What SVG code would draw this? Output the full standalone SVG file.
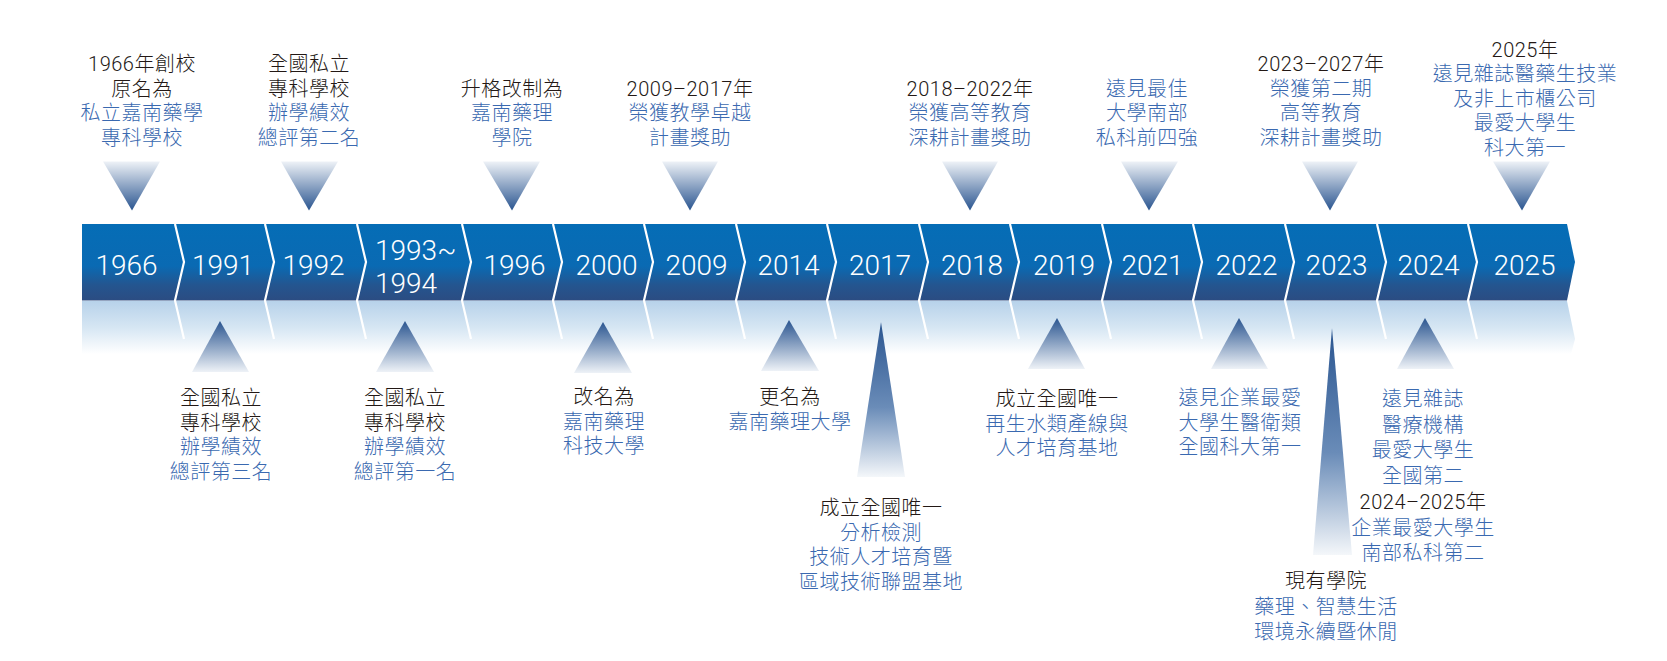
<svg xmlns="http://www.w3.org/2000/svg" width="1667" height="661" viewBox="0 0 1667 661">
<defs>
<linearGradient id="gBand" x1="0" y1="0" x2="0" y2="1">
<stop offset="0" stop-color="#056db6"/>
<stop offset="0.55" stop-color="#0a6ab3"/>
<stop offset="0.8" stop-color="#24558f"/>
<stop offset="1" stop-color="#2b4c82"/>
</linearGradient>
<linearGradient id="gRefl" x1="0" y1="0" x2="0" y2="1">
<stop offset="0" stop-color="#b7d2ea"/>
<stop offset="0.5" stop-color="#d6e6f3"/>
<stop offset="1" stop-color="#ffffff"/>
</linearGradient>
<linearGradient id="gDown" x1="0" y1="0" x2="0" y2="1">
<stop offset="0" stop-color="#eef2f7"/>
<stop offset="1" stop-color="#2a5590"/>
</linearGradient>
<linearGradient id="gUp" x1="0" y1="0" x2="0" y2="1">
<stop offset="0" stop-color="#2a5590"/>
<stop offset="1" stop-color="#eef2f7"/>
</linearGradient>
<linearGradient id="gTall" x1="0" y1="0" x2="0" y2="1">
<stop offset="0" stop-color="#2a5590"/>
<stop offset="0.55" stop-color="#6a8cb8"/>
<stop offset="1" stop-color="#f4f7fa"/>
</linearGradient>
</defs>
<style>
.yr{font-family:Roboto,"Liberation Sans",sans-serif;font-weight:300;font-size:28px;fill:#ffffff;text-anchor:middle}
.yl{text-anchor:start}
.lbl{font-family:Roboto,"Noto Sans CJK TC",sans-serif;font-weight:300;font-size:20px;letter-spacing:0.5px;text-anchor:middle}
.n{font-weight:300}
.k{fill:#231815}
.b{fill:#3a69b0}
.sep{fill:none;stroke:#ffffff;stroke-width:2.2}
.td{fill:url(#gDown)}
.tu{fill:url(#gUp)}
.tt{fill:url(#gTall)}
</style>
<rect width="1667" height="661" fill="#ffffff"/>

<g id="band">
<polygon points="82,301 1567,301 1575,339 1571,354 82,354" fill="url(#gRefl)"/>
<polygon points="82,224 1567,224 1575,262 1567,300.5 82,300.5" fill="url(#gBand)"/>
<g class="sep">
<path d="M175,224 L184,262 L175,300.5 L184,339"/>
<path d="M265,224 L274,262 L265,300.5 L274,339"/>
<path d="M357,224 L366,262 L357,300.5 L366,339"/>
<path d="M462,224 L471,262 L462,300.5 L471,339"/>
<path d="M553,224 L562,262 L553,300.5 L562,339"/>
<path d="M644,224 L653,262 L644,300.5 L653,339"/>
<path d="M736,224 L745,262 L736,300.5 L745,339"/>
<path d="M827,224 L836,262 L827,300.5 L836,339"/>
<path d="M919,224 L928,262 L919,300.5 L928,339"/>
<path d="M1010,224 L1019,262 L1010,300.5 L1019,339"/>
<path d="M1102,224 L1111,262 L1102,300.5 L1111,339"/>
<path d="M1193,224 L1202,262 L1193,300.5 L1202,339"/>
<path d="M1285,224 L1294,262 L1285,300.5 L1294,339"/>
<path d="M1377,224 L1386,262 L1377,300.5 L1386,339"/>
<path d="M1468,224 L1477,262 L1468,300.5 L1477,339"/>
</g>
</g>

<g id="connectors">
<polygon class="td" points="103,161.5 160,161.5 132,210.5"/>
<polygon class="td" points="281,161.5 338,161.5 309,210.5"/>
<polygon class="td" points="483,161.5 540,161.5 512,210.5"/>
<polygon class="td" points="662,161.5 718,161.5 690,210.5"/>
<polygon class="td" points="942,161.5 998,161.5 970,210.5"/>
<polygon class="td" points="1121,161.5 1178,161.5 1149,210.5"/>
<polygon class="td" points="1302,161.5 1358,161.5 1330,210.5"/>
<polygon class="td" points="1493,161.5 1550,161.5 1522,210.5"/>
<polygon class="tu" points="220,321 249,372 192,372"/>
<polygon class="tu" points="405,321 434,372 376,372"/>
<polygon class="tu" points="603,322 632,373 574,373"/>
<polygon class="tu" points="789,320 819,371 761,371"/>
<polygon class="tu" points="1057,318 1085,369 1028,369"/>
<polygon class="tu" points="1239,318 1268,369 1211,369"/>
<polygon class="tu" points="1425,318 1454,369 1397,369"/>
<polygon class="tt" points="881,322 905,477 857,477"/>
<polygon class="tt" points="1332,328 1352,555 1313,555"/>
</g>

<g id="y1966"><text class="yr" x="126.5" y="275">1966</text>
<text class="lbl" x="142" y="71"><tspan class="k"><tspan class="n">1966</tspan>年創校</tspan><tspan class="k" x="142" dy="24.5">原名為</tspan><tspan class="b" x="142" dy="24.5">私立嘉南藥學</tspan><tspan class="b" x="142" dy="24.5">專科學校</tspan></text></g>

<g id="y1991"><text class="yr" x="223" y="275">1991</text>
<text class="lbl" x="221" y="405"><tspan class="k">全國私立</tspan><tspan class="k" x="221" dy="24.6">專科學校</tspan><tspan class="b" x="221" dy="24.6">辦學績效</tspan><tspan class="b" x="221" dy="24.6">總評第三名</tspan></text></g>

<g id="y1992"><text class="yr" x="313.5" y="275">1992</text>
<text class="lbl" x="309" y="71"><tspan class="k">全國私立</tspan><tspan class="k" x="309" dy="24.5">專科學校</tspan><tspan class="b" x="309" dy="24.5">辦學績效</tspan><tspan class="b" x="309" dy="24.5">總評第二名</tspan></text></g>

<g id="y1993"><text class="yr yl" x="375" y="260">1993~</text><text class="yr yl" x="375" y="293">1994</text>
<text class="lbl" x="405" y="405"><tspan class="k">全國私立</tspan><tspan class="k" x="405" dy="24.6">專科學校</tspan><tspan class="b" x="405" dy="24.6">辦學績效</tspan><tspan class="b" x="405" dy="24.6">總評第一名</tspan></text></g>

<g id="y1996"><text class="yr" x="514.5" y="275">1996</text>
<text class="lbl" x="512" y="95.5"><tspan class="k">升格改制為</tspan><tspan class="b" x="512" dy="24.5">嘉南藥理</tspan><tspan class="b" x="512" dy="24.5">學院</tspan></text></g>

<g id="y2000"><text class="yr" x="606.5" y="275">2000</text>
<text class="lbl" x="604" y="404"><tspan class="k">改名為</tspan><tspan class="b" x="604" dy="24.6">嘉南藥理</tspan><tspan class="b" x="604" dy="24.6">科技大學</tspan></text></g>

<g id="y2009"><text class="yr" x="696.5" y="275">2009</text>
<text class="lbl" x="690" y="95.5"><tspan class="k"><tspan class="n">2009–2017</tspan>年</tspan><tspan class="b" x="690" dy="24.5">榮獲教學卓越</tspan><tspan class="b" x="690" dy="24.5">計畫獎助</tspan></text></g>

<g id="y2014"><text class="yr" x="788.5" y="275">2014</text>
<text class="lbl" x="790" y="404"><tspan class="k">更名為</tspan><tspan class="b" x="790" dy="24.6">嘉南藥理大學</tspan></text></g>

<g id="y2017"><text class="yr" x="880" y="275">2017</text>
<text class="lbl" x="881" y="515"><tspan class="k">成立全國唯一</tspan><tspan class="b" x="881" dy="24.6">分析檢測</tspan><tspan class="b" x="881" dy="24.6">技術人才培育暨</tspan><tspan class="b" x="881" dy="24.6">區域技術聯盟基地</tspan></text></g>

<g id="y2018"><text class="yr" x="972" y="275">2018</text>
<text class="lbl" x="970" y="95.5"><tspan class="k"><tspan class="n">2018–2022</tspan>年</tspan><tspan class="b" x="970" dy="24.5">榮獲高等教育</tspan><tspan class="b" x="970" dy="24.5">深耕計畫獎助</tspan></text></g>

<g id="y2019"><text class="yr" x="1064" y="275">2019</text>
<text class="lbl" x="1057" y="406"><tspan class="k">成立全國唯一</tspan><tspan class="b" x="1057" dy="24.6">再生水類產線與</tspan><tspan class="b" x="1057" dy="24.6">人才培育基地</tspan></text></g>

<g id="y2021"><text class="yr" x="1152.5" y="275">2021</text>
<text class="lbl" x="1147" y="95.5"><tspan class="b">遠見最佳</tspan><tspan class="b" x="1147" dy="24.5">大學南部</tspan><tspan class="b" x="1147" dy="24.5">私科前四強</tspan></text></g>

<g id="y2022"><text class="yr" x="1246.5" y="275">2022</text>
<text class="lbl" x="1240" y="405"><tspan class="b">遠見企業最愛</tspan><tspan class="b" x="1240" dy="24.6">大學生醫衛類</tspan><tspan class="b" x="1240" dy="24.6">全國科大第一</tspan></text></g>

<g id="y2023"><text class="yr" x="1336.5" y="275">2023</text>
<text class="lbl" x="1321" y="71"><tspan class="k"><tspan class="n">2023–2027</tspan>年</tspan><tspan class="b" x="1321" dy="24.5">榮獲第二期</tspan><tspan class="b" x="1321" dy="24.5">高等教育</tspan><tspan class="b" x="1321" dy="24.5">深耕計畫獎助</tspan></text>
<text class="lbl" x="1326" y="588"><tspan class="k">現有學院</tspan><tspan class="b" x="1326" dy="25.5">藥理、智慧生活</tspan><tspan class="b" x="1326" dy="25.5">環境永續暨休閒</tspan></text></g>

<g id="y2024"><text class="yr" x="1428.5" y="275">2024</text>
<text class="lbl" x="1423" y="406"><tspan class="b">遠見雜誌</tspan><tspan class="b" x="1423" dy="25.5">醫療機構</tspan><tspan class="b" x="1423" dy="25.5">最愛大學生</tspan><tspan class="b" x="1423" dy="25.5">全國第二</tspan><tspan class="k" x="1423" dy="26.5"><tspan class="n">2024–2025</tspan>年</tspan><tspan class="b" x="1423" dy="25.5">企業最愛大學生</tspan><tspan class="b" x="1423" dy="25.5">南部私科第二</tspan></text></g>

<g id="y2025"><text class="yr" x="1524.5" y="275">2025</text>
<text class="lbl" x="1525" y="56.5"><tspan class="k"><tspan class="n">2025</tspan>年</tspan><tspan class="b" x="1525" dy="24.5">遠見雜誌醫藥生技業</tspan><tspan class="b" x="1525" dy="24.5">及非上市櫃公司</tspan><tspan class="b" x="1525" dy="24.5">最愛大學生</tspan><tspan class="b" x="1525" dy="24.5">科大第一</tspan></text></g>
</svg>
